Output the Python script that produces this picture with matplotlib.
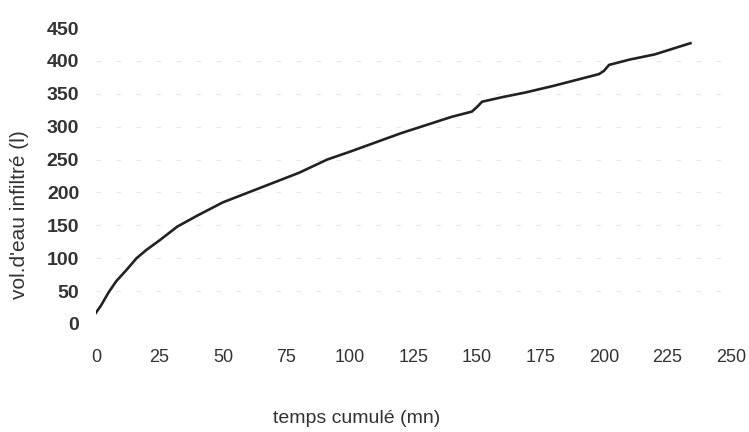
import matplotlib
matplotlib.use('Agg')
import matplotlib.pyplot as plt

# temps cumulé (mn) et volume infiltré (l)
temps = [0, 2, 5, 8, 12, 16, 20, 25, 32, 40, 50, 60, 70, 80, 91, 100, 110,
         120, 128, 140, 148, 150, 152, 160, 169, 180, 190, 198, 200, 202,
         210, 220, 234]
volume = [17, 28, 48, 65, 82, 100, 113, 127, 148, 165, 185, 200, 215, 230,
          250, 262, 276, 290, 300, 315, 323, 330, 338, 345, 352, 362, 372,
          380, 385, 394, 402, 410, 427]

x_ticks = list(range(0, 251, 25))
y_ticks = list(range(0, 451, 50))

plt.rcParams['font.family'] = ['Liberation Sans', 'DejaVu Sans']

fig = plt.figure(figsize=(7.49, 4.32), dpi=100)
ax = fig.add_axes([0.128, 0.25, 0.848, 0.685])

# traces de quadrillage très pâles (aspect du document scanné)
for y in y_ticks[1:-1]:
    ax.axhline(y, color='#e6e6e6', lw=0.8, ls=(0, (4, 14)), zorder=1)

ax.plot(temps, volume, color='#222222', lw=1.9, zorder=3)

ax.set_xlim(0, 250)
ax.set_ylim(0, 450)
ax.set_xticks(x_ticks)
ax.set_yticks(y_ticks)
for s in ax.spines.values():
    s.set_visible(False)
ax.tick_params(axis='both', length=0, colors='#333333')
ax.tick_params(axis='y', labelsize=14, pad=12)
ax.tick_params(axis='x', labelsize=13, pad=18)
for lab in ax.get_yticklabels():
    lab.set_fontweight('bold')

ax.set_xlabel("temps cumulé (mn)", fontsize=14, color='#333333')
ax.set_ylabel("vol.d'eau infiltré (l)", fontsize=15, color='#333333')
ax.xaxis.set_label_coords(0.41, -0.29)
ax.yaxis.set_label_coords(-0.106, 0.37)

plt.savefig('out.png', dpi=100)
plt.close(fig)
